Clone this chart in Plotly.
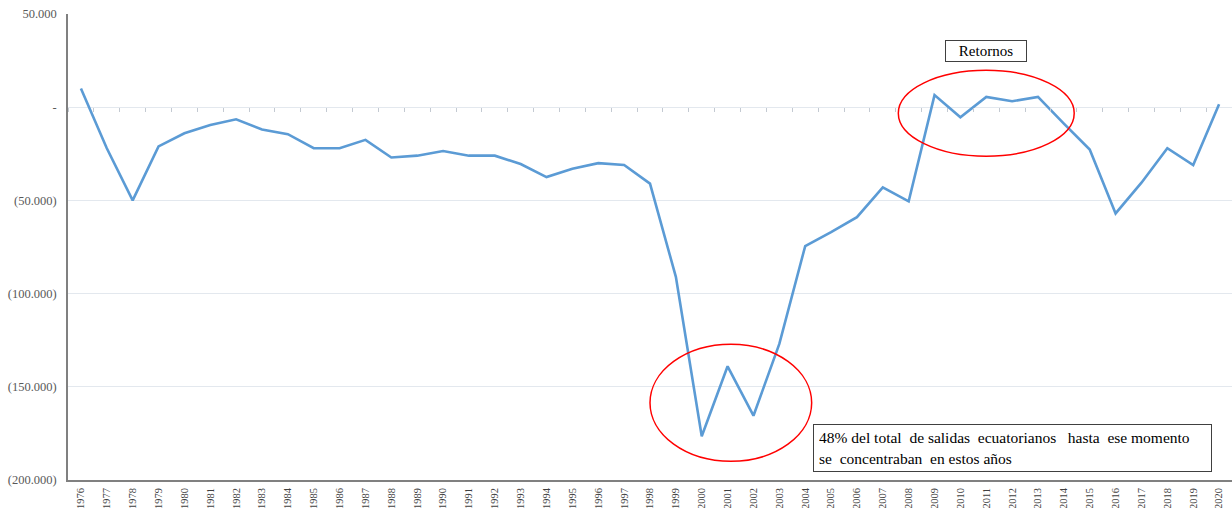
import plotly.graph_objects as go

years = [str(y) for y in range(1976, 2021)]
saldo = [10000, -22000, -50000, -21000, -14000, -9600, -6500, -12000, -14500, -22000,
         -22000, -17500, -27000, -26000, -23500, -26000, -26000, -30500, -37500, -33000,
         -30000, -31000, -41000, -91000, -176500, -139000, -165500, -127000, -74500, -67000,
         -59000, -43000, -50500, 6500, -5400, 5500, 3200, 5500, -8800, -22700,
         -57000, -40500, -22000, -31000, 1600]

ytick_vals = [50000, 0, -50000, -100000, -150000, -200000]
ytick_text = ["50.000", "-", "(50.000)", "(100.000)", "(150.000)", "(200.000)"]

serif = "Liberation Serif, Times New Roman, serif"

fig = go.Figure()
# invisible copy on the overlay axis, to get tick marks on the zero line
fig.add_trace(go.Scatter(x=years, y=saldo, xaxis="x2", mode="lines",
                         line=dict(width=0, color="rgba(0,0,0,0)"), showlegend=False,
                         hoverinfo="skip"))
fig.add_trace(go.Scatter(x=years, y=saldo, mode="lines",
                         line=dict(color="#5B9BD5", width=2.6), showlegend=False))

fig.update_layout(
    width=1232, height=508,
    margin=dict(l=68, r=0, t=14, b=28),
    paper_bgcolor="white", plot_bgcolor="white",
    xaxis=dict(type="category", range=[-0.5, 44.5], tickangle=-90, automargin=False,
               tickfont=dict(family=serif, size=10.5, color="#404040"),
               showline=True, linecolor="#808080", linewidth=1.5,
               showgrid=False, ticks="", ticklabelstandoff=2),
    xaxis2=dict(type="category", range=[-0.5, 44.5], overlaying="x", anchor="free",
                position=0.8, showticklabels=False, showline=False, showgrid=False,
                automargin=False, side="bottom",
                ticks="outside", ticklen=4, tickwidth=1, tickcolor="#C4CAD2",
                tickson="boundaries"),
    yaxis=dict(range=[-200000, 50000], tickvals=ytick_vals, ticktext=ytick_text,
               automargin=False,
               tickfont=dict(family=serif, size=12.5, color="#595959"),
               showline=True, linecolor="#808080", linewidth=1.5,
               showgrid=True, gridcolor="#E3E8EE", gridwidth=1, zeroline=False,
               ticks="", ticklabelstandoff=7),
    shapes=[
        dict(type="circle", xref="x", yref="y", x0=31.6, x1=38.4, y0=-26300, y1=19800,
             line=dict(color="#FF0000", width=1.5)),
        dict(type="circle", xref="x", yref="y", x0=22.0, x1=28.25, y0=-190000, y1=-127200,
             line=dict(color="#FF0000", width=1.5)),
    ],
    annotations=[
        dict(text="Retornos", xref="paper", yref="paper",
             x=(986-68)/1164, y=1-(51-14)/466, xanchor="center", yanchor="middle",
             showarrow=False, font=dict(family=serif, size=15, color="black"),
             width=76, height=16,
             bordercolor="#404040", borderwidth=1, borderpad=2, bgcolor="white"),
        dict(text="48% del total  de salidas  ecuatorianos   hasta  ese momento<br>se  concentraban  en estos años",
             xref="paper", yref="paper", x=(813-68)/1164, y=1-(424-14)/466,
             xanchor="left", yanchor="top", align="left", showarrow=False,
             width=387, height=36,
             font=dict(family=serif, size=15.5, color="black"),
             bordercolor="#404040", borderwidth=1, borderpad=5, bgcolor="white"),
    ],
)

fig.write_html("out.html", config={"displayModeBar": False},
               post_script="document.body.style.margin='0';document.body.style.padding='0';")
